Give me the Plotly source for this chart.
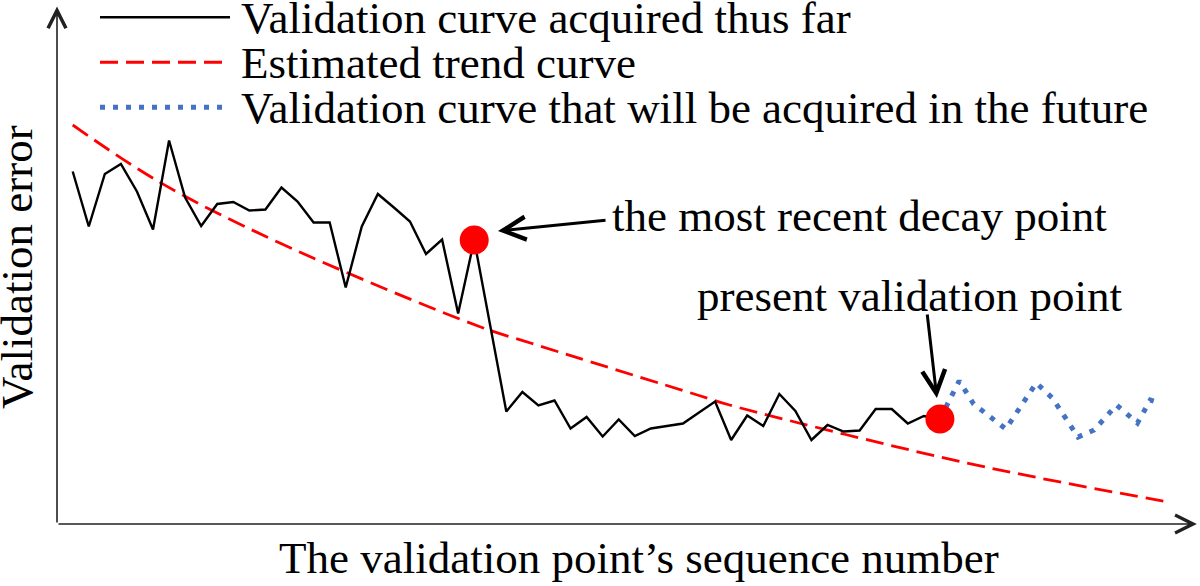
import plotly.graph_objects as go

# validation curve acquired so far (sequence number, validation error)
seq_acquired = [0, 1, 2, 3, 4, 5, 6, 7, 8, 9, 10, 11, 12, 13, 14, 15, 16, 17, 18, 19,
                20, 21, 22, 23, 24, 25, 27, 28, 29, 30, 31, 32, 33, 34, 35, 36, 37, 38,
                39, 40, 41, 42, 43, 44, 45, 46, 47, 48, 49, 50, 51, 52, 53, 54]
err_acquired = [7.05, 5.95, 7.00, 7.20, 6.65, 5.89, 7.67, 6.53, 5.96, 6.40, 6.44, 6.27,
                6.29, 6.73, 6.45, 6.03, 6.03, 4.73, 5.95, 6.60, 6.33, 6.05, 5.40, 5.69,
                4.21, 5.68, 2.25, 2.64, 2.37, 2.47, 1.91, 2.14, 1.75, 2.09, 1.76, 1.91,
                1.96, 2.01, 2.23, 2.45, 1.68, 2.17, 1.96, 2.60, 2.26, 1.68, 1.98, 1.85,
                1.87, 2.30, 2.30, 2.01, 2.16, 2.10]

# estimated trend curve
seq_trend = [0, 5.4, 12.9, 25.4, 28.5, 39.1, 40.9, 54.0, 60.2, 68.2]
err_trend = [7.98, 6.84, 5.62, 3.94, 3.62, 2.56, 2.38, 1.34, 0.92, 0.44]

# validation curve acquired in the future
seq_future = [54, 55.2, 56.1, 58.1, 60.0, 61.0, 62.6, 63.6, 65.0, 66.3, 67.1, 67.7]
err_future = [2.10, 2.86, 2.40, 1.90, 2.82, 2.52, 1.74, 1.88, 2.38, 2.02, 2.48, 2.42]

# highlighted points: most recent decay point, present validation point
seq_marked = [25, 54]
err_marked = [5.68, 2.10]

legend_names = ["Validation curve acquired thus far",
                "Estimated trend curve",
                "Validation curve that will be acquired in the future"]

FONT = "Liberation Serif, Times New Roman, serif"
W, H = 1200, 586
L, R, T, B = 57, 2, 5, 62
X0, X1 = -0.978, 70.07
Y0, Y1 = 0, 10.38


def px_x(p):
    return (p - L) / (W - L - R)


def px_y(p):
    return (H - B - p) / (H - T - B)


fig = go.Figure()
fig.add_trace(go.Scatter(x=seq_trend, y=err_trend, mode="lines", line_shape="spline",
                         line=dict(color="#FF0000", width=2.8, dash="18px,8px")))
fig.add_trace(go.Scatter(x=seq_acquired, y=err_acquired, mode="lines",
                         line=dict(color="black", width=2.4)))
fig.add_trace(go.Scatter(x=seq_future, y=err_future, mode="lines",
                         line=dict(color="#4472C4", width=5, dash="5px,8px")))
fig.add_trace(go.Scatter(x=seq_marked, y=err_marked, mode="markers",
                         marker=dict(color="#FF0000", size=29)))

shapes = []
legend_style = [dict(color="black", width=2.5),
                dict(color="#FF0000", width=3, dash="18px,8px"),
                dict(color="#4472C4", width=5, dash="5px,8px")]
annotations = []
for i, (name, st) in enumerate(zip(legend_names, legend_style)):
    yy = 17.3 + 45 * i
    shapes.append(dict(type="line", xref="paper", yref="paper",
                       x0=px_x(100), x1=px_x(230), y0=px_y(yy), y1=px_y(yy), line=st))
    annotations.append(dict(text=name, xref="paper", yref="paper", x=px_x(239), y=px_y(yy + 1),
                            xanchor="left", yanchor="middle", showarrow=False,
                            font=dict(family=FONT, size=45, color="black")))

# axes with arrows
annotations.append(dict(x=70.0, y=0, ax=X0, ay=0, xref="x", yref="y", axref="x", ayref="y",
                        text="", showarrow=True, arrowhead=5, arrowwidth=1.6, arrowsize=2.2,
                        arrowcolor="#222222"))
annotations.append(dict(x=X0, y=10.35, ax=X0, ay=0, xref="x", yref="y", axref="x", ayref="y",
                        text="", showarrow=True, arrowhead=5, arrowwidth=1.6, arrowsize=2.2,
                        arrowcolor="#222222"))

# pointers
annotations.append(dict(x=26.48, y=5.86, ax=33.27, ay=6.08, xref="x", yref="y", axref="x", ayref="y",
                        text="", showarrow=True, arrowhead=5, arrowwidth=3, arrowsize=1.5,
                        arrowcolor="black"))
annotations.append(dict(x=53.81, y=2.52, ax=53.2, ay=4.22, xref="x", yref="y", axref="x", ayref="y",
                        text="", showarrow=True, arrowhead=5, arrowwidth=3, arrowsize=1.5,
                        arrowcolor="black"))
annotations.append(dict(text="the most recent decay point", xref="paper", yref="paper",
                        x=px_x(610), y=px_y(216), xanchor="left", yanchor="middle", showarrow=False,
                        font=dict(family=FONT, size=45, color="black")))
annotations.append(dict(text="present validation point", xref="paper", yref="paper",
                        x=px_x(695), y=px_y(296), xanchor="left", yanchor="middle", showarrow=False,
                        font=dict(family=FONT, size=45, color="black")))

# axis titles
annotations.append(dict(text="Validation error", xref="paper", yref="paper",
                        x=px_x(17), y=px_y(267), xanchor="center", yanchor="middle",
                        textangle=-90, showarrow=False,
                        font=dict(family=FONT, size=45, color="black")))
annotations.append(dict(text="The validation point’s sequence number", xref="paper", yref="paper",
                        x=px_x(639), y=px_y(558), xanchor="center", yanchor="middle", showarrow=False,
                        font=dict(family=FONT, size=45, color="black")))

fig.update_layout(
    width=W, height=H,
    margin=dict(l=L, r=R, t=T, b=B),
    paper_bgcolor="white", plot_bgcolor="white",
    showlegend=False,
    xaxis=dict(range=[X0, X1], visible=False),
    yaxis=dict(range=[Y0, Y1], visible=False),
    shapes=shapes,
    annotations=annotations,
)

# page body has a default margin; drop it so the figure fills the window
fig.write_html("out.html", config={"displayModeBar": False},
               post_script="document.body.style.margin='0px';")
